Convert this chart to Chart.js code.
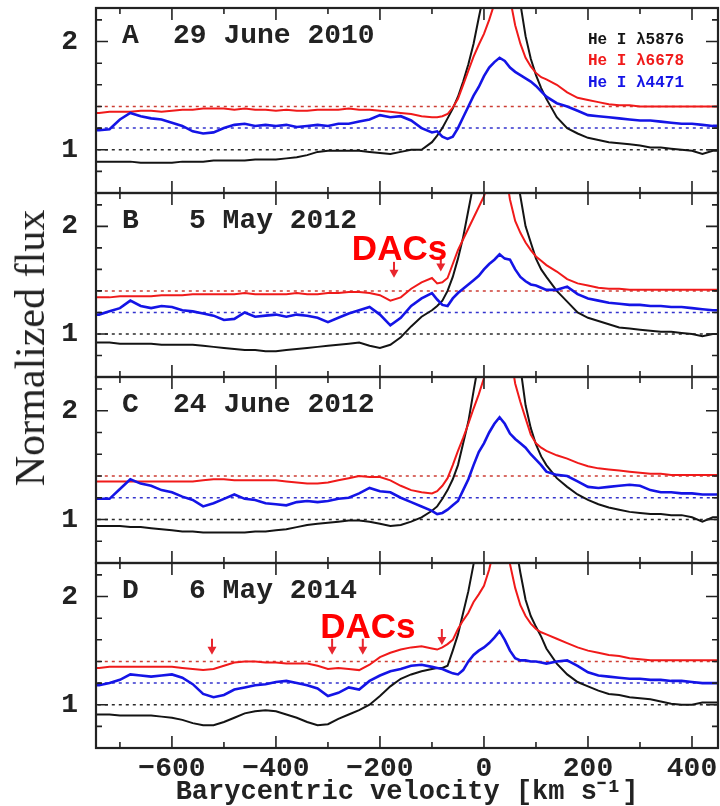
<!DOCTYPE html>
<html>
<head>
<meta charset="utf-8">
<title>He I line profiles</title>
<script src="https://cdn.jsdelivr.net/npm/chart.js@4.4.1/dist/chart.umd.min.js"></script>
<style>
  body { margin: 0; background: #fff; }
  #wrap { position: relative; width: 720px; height: 806px; overflow: hidden; background: #fff; }
  #wrap canvas { position: absolute; left: 0; }
  #ytitle {
    position: absolute; left: 30px; top: 348px;
    transform: translate(-50%, -50%) rotate(-90deg);
    font: 42px "Liberation Serif"; color: #222; white-space: nowrap;
  }
</style>
</head>
<body>
<div id="wrap">
  <canvas id="panelA" width="720" height="200" style="top:0px"></canvas>
  <canvas id="panelB" width="720" height="200" style="top:185px"></canvas>
  <canvas id="panelC" width="720" height="202" style="top:369px"></canvas>
  <canvas id="panelD" width="720" height="251" style="top:555px"></canvas>
  <div id="ytitle">Normalized flux</div>
</div>
<script>
// velocity grid (km/s), finer around the emission peak
var velocity = [-750, -740, -720, -700, -680, -660, -640, -620, -600,
  -580, -560, -540, -520, -500, -480, -460, -440, -420, -400,
  -380, -360, -340, -320, -300, -280, -260, -240, -220, -200,
  -180, -160, -140, -120, -100,
  -90, -80, -70, -60, -50, -40, -30, -20, -10, 0,
  10, 20, 30, 40, 50, 60, 70, 80, 90, 100, 110,
  120, 140, 160, 180, 200, 220, 240, 260, 280, 300,
  320, 340, 360, 380, 400, 420, 440, 450];

// A - 29 June 2010
var fluxA5876 = [0.89, 0.89, 0.89, 0.89, 0.89, 0.88, 0.88, 0.88, 0.88,
  0.89, 0.89, 0.89, 0.90, 0.90, 0.90, 0.90, 0.91, 0.91, 0.91,
  0.92, 0.93, 0.95, 0.98, 0.99, 0.99, 0.99, 0.99, 0.98, 0.97,
  0.96, 0.98, 1.00, 1.00, 1.07,
  1.13, 1.20, 1.29, 1.38, 1.49, 1.63, 1.79, 1.98, 2.22, 2.45,
  2.75, 3.00, 3.10, 3.05, 2.85, 2.60, 2.35, 2.05, 1.84, 1.69, 1.57,
  1.47, 1.30, 1.20, 1.15, 1.11, 1.09, 1.07, 1.06, 1.05, 1.04,
  1.02, 1.02, 1.01, 1.00, 0.99, 0.96, 0.99, 0.99];
var fluxA6678 = [1.34, 1.34, 1.35, 1.35, 1.35, 1.36, 1.36, 1.35, 1.36,
  1.37, 1.37, 1.38, 1.38, 1.38, 1.37, 1.38, 1.37, 1.37, 1.36,
  1.37, 1.36, 1.36, 1.37, 1.37, 1.37, 1.38, 1.37, 1.37, 1.36,
  1.35, 1.34, 1.33, 1.31, 1.30,
  1.30, 1.31, 1.33, 1.39, 1.47, 1.60, 1.73, 1.86, 1.97, 2.07,
  2.20, 2.35, 2.50, 2.55, 2.40, 2.15, 1.98, 1.85, 1.77, 1.71, 1.67,
  1.65, 1.60, 1.53, 1.48, 1.46, 1.44, 1.42, 1.41, 1.41, 1.40,
  1.40, 1.40, 1.40, 1.40, 1.40, 1.40, 1.40, 1.40];
var fluxA4471 = [1.18, 1.18, 1.19, 1.28, 1.34, 1.31, 1.29, 1.28, 1.25,
  1.22, 1.17, 1.15, 1.16, 1.20, 1.23, 1.24, 1.22, 1.23, 1.22,
  1.23, 1.21, 1.22, 1.23, 1.22, 1.24, 1.24, 1.26, 1.28, 1.32,
  1.30, 1.31, 1.27, 1.20, 1.16,
  1.17, 1.12, 1.10, 1.12, 1.20, 1.30, 1.40, 1.50, 1.58, 1.68,
  1.76, 1.81, 1.85, 1.82, 1.76, 1.72, 1.69, 1.66, 1.63, 1.59, 1.54,
  1.49, 1.43, 1.40, 1.36, 1.32, 1.31, 1.30, 1.29, 1.28, 1.27,
  1.27, 1.26, 1.25, 1.24, 1.24, 1.23, 1.22, 1.22];

// B - 5 May 2012
var fluxB5876 = [0.92, 0.92, 0.92, 0.91, 0.91, 0.91, 0.91, 0.90, 0.90,
  0.90, 0.90, 0.89, 0.88, 0.87, 0.86, 0.85, 0.85, 0.84, 0.84,
  0.85, 0.86, 0.87, 0.88, 0.89, 0.90, 0.91, 0.92, 0.89, 0.87,
  0.90, 0.97, 1.07, 1.16, 1.22,
  1.26, 1.31, 1.40, 1.53, 1.70, 1.90, 2.15, 2.40, 2.65, 2.90,
  3.10, 3.20, 3.20, 3.10, 2.85, 2.55, 2.28, 2.00, 1.85, 1.70, 1.60,
  1.53, 1.40, 1.30, 1.20, 1.15, 1.12, 1.09, 1.06, 1.05, 1.04,
  1.03, 1.02, 1.02, 1.01, 1.00, 0.98, 1.00, 1.00];
var fluxB6678 = [1.34, 1.34, 1.34, 1.35, 1.35, 1.35, 1.35, 1.36, 1.36,
  1.36, 1.37, 1.37, 1.37, 1.37, 1.37, 1.38, 1.37, 1.37, 1.37,
  1.37, 1.38, 1.37, 1.37, 1.38, 1.38, 1.39, 1.39, 1.38, 1.36,
  1.31, 1.34, 1.42, 1.48, 1.52,
  1.47, 1.48, 1.52, 1.65, 1.78, 1.88, 1.98, 2.08, 2.18, 2.28,
  2.42, 2.60, 2.70, 2.55, 2.25, 2.05, 1.94, 1.85, 1.78, 1.72, 1.68,
  1.64, 1.58, 1.51, 1.47, 1.45, 1.43, 1.42, 1.42, 1.41, 1.41,
  1.41, 1.41, 1.41, 1.41, 1.41, 1.41, 1.41, 1.41];
var fluxB4471 = [1.18, 1.18, 1.21, 1.24, 1.31, 1.26, 1.24, 1.26, 1.25,
  1.22, 1.21, 1.19, 1.17, 1.13, 1.14, 1.20, 1.16, 1.17, 1.18,
  1.16, 1.18, 1.17, 1.15, 1.11, 1.15, 1.19, 1.22, 1.25, 1.18,
  1.08, 1.15, 1.26, 1.33, 1.38,
  1.32, 1.27, 1.26, 1.33, 1.38, 1.42, 1.46, 1.50, 1.54, 1.60,
  1.65, 1.69, 1.74, 1.70, 1.69, 1.60, 1.53, 1.49, 1.46, 1.45, 1.43,
  1.41, 1.41, 1.44, 1.37, 1.33, 1.31, 1.29, 1.28, 1.27, 1.27,
  1.26, 1.26, 1.25, 1.25, 1.24, 1.23, 1.22, 1.22];

// C - 24 June 2012
var fluxC5876 = [0.94, 0.94, 0.94, 0.94, 0.93, 0.93, 0.92, 0.91, 0.90,
  0.89, 0.89, 0.88, 0.88, 0.88, 0.88, 0.88, 0.89, 0.89, 0.90,
  0.91, 0.93, 0.95, 0.96, 0.97, 0.98, 0.99, 0.99, 0.98, 0.96,
  0.94, 0.95, 0.98, 1.02, 1.08,
  1.12, 1.19, 1.27, 1.37, 1.50, 1.70, 1.90, 2.18, 2.45, 2.75,
  3.00, 3.20, 3.30, 3.20, 3.00, 2.70, 2.40, 2.05, 1.84, 1.69, 1.58,
  1.50, 1.38, 1.30, 1.23, 1.18, 1.14, 1.11, 1.09, 1.07, 1.06,
  1.05, 1.05, 1.04, 1.04, 1.02, 0.98, 1.02, 1.02];
var fluxC6678 = [1.35, 1.35, 1.35, 1.35, 1.35, 1.35, 1.35, 1.35, 1.35,
  1.35, 1.35, 1.36, 1.37, 1.37, 1.36, 1.36, 1.36, 1.36, 1.36,
  1.35, 1.34, 1.33, 1.33, 1.34, 1.36, 1.38, 1.40, 1.39, 1.39,
  1.36, 1.31, 1.27, 1.25, 1.24,
  1.26, 1.31, 1.38, 1.50, 1.63, 1.75, 1.88, 2.02, 2.15, 2.30,
  2.55, 2.80, 2.90, 2.80, 2.55, 2.25, 2.08, 1.93, 1.78, 1.70, 1.66,
  1.63, 1.59, 1.56, 1.52, 1.49, 1.47, 1.46, 1.45, 1.44, 1.43,
  1.42, 1.42, 1.41, 1.41, 1.41, 1.41, 1.41, 1.41];
var fluxC4471 = [1.19, 1.19, 1.19, 1.28, 1.37, 1.33, 1.31, 1.27, 1.25,
  1.21, 1.18, 1.12, 1.15, 1.19, 1.23, 1.19, 1.18, 1.15, 1.14,
  1.13, 1.16, 1.17, 1.16, 1.17, 1.19, 1.20, 1.24, 1.29, 1.26,
  1.25, 1.20, 1.16, 1.12, 1.08,
  1.05, 1.06, 1.09, 1.13, 1.17, 1.27, 1.37, 1.50, 1.62, 1.70,
  1.80, 1.88, 1.94, 1.88, 1.79, 1.74, 1.70, 1.66, 1.60, 1.55, 1.50,
  1.44, 1.41, 1.40, 1.35, 1.30, 1.29, 1.30, 1.31, 1.32, 1.31,
  1.27, 1.25, 1.25, 1.24, 1.24, 1.23, 1.23, 1.23];

// D - 6 May 2014
var fluxD5876 = [0.91, 0.91, 0.91, 0.90, 0.90, 0.90, 0.90, 0.89, 0.88,
  0.86, 0.83, 0.81, 0.81, 0.84, 0.88, 0.92, 0.94, 0.95, 0.94,
  0.91, 0.88, 0.84, 0.81, 0.82, 0.87, 0.91, 0.95, 1.00, 1.08,
  1.17, 1.24, 1.28, 1.31, 1.33,
  1.34, 1.34, 1.36, 1.50, 1.65, 1.85, 2.05, 2.30, 2.60, 2.90,
  3.10, 3.20, 3.20, 3.10, 2.85, 2.50, 2.22, 1.97, 1.82, 1.72, 1.63,
  1.52, 1.38, 1.28, 1.21, 1.17, 1.13, 1.10, 1.09, 1.07, 1.06,
  1.05, 1.03, 1.01, 1.00, 1.00, 1.02, 1.02, 1.02];
var fluxD6678 = [1.34, 1.34, 1.35, 1.35, 1.35, 1.35, 1.35, 1.35, 1.35,
  1.34, 1.33, 1.32, 1.33, 1.36, 1.39, 1.40, 1.40, 1.39, 1.39,
  1.38, 1.38, 1.38, 1.36, 1.33, 1.34, 1.33, 1.32, 1.37, 1.44,
  1.48, 1.51, 1.53, 1.54, 1.52,
  1.51, 1.53, 1.56, 1.60, 1.70, 1.78, 1.85, 1.95, 2.02, 2.10,
  2.25, 2.45, 2.60, 2.50, 2.30, 2.08, 1.92, 1.82, 1.75, 1.70, 1.67,
  1.65, 1.61, 1.57, 1.53, 1.50, 1.48, 1.46, 1.45, 1.43, 1.42,
  1.41, 1.41, 1.41, 1.41, 1.41, 1.41, 1.41, 1.41];
var fluxD4471 = [1.18, 1.18, 1.20, 1.23, 1.28, 1.27, 1.26, 1.27, 1.28,
  1.25, 1.19, 1.10, 1.07, 1.09, 1.14, 1.16, 1.18, 1.19, 1.21,
  1.22, 1.20, 1.18, 1.15, 1.08, 1.11, 1.16, 1.14, 1.22, 1.27,
  1.31, 1.33, 1.36, 1.37, 1.35,
  1.34, 1.33, 1.31, 1.29, 1.28, 1.32, 1.40, 1.46, 1.50, 1.53,
  1.57, 1.62, 1.68, 1.60, 1.50, 1.43, 1.41, 1.41, 1.40, 1.40, 1.39,
  1.38, 1.40, 1.41, 1.36, 1.30, 1.27, 1.26, 1.25, 1.24, 1.24,
  1.23, 1.23, 1.22, 1.22, 1.21, 1.20, 1.20, 1.20];

// continuum levels (dotted) for 5876, 4471 (+0.2) and 6678 (+0.4)
var level5876 = 1.0;
var level4471 = 1.2;
var level6678 = 1.4;

// axes
var velMin = -746;
var velMax = 450;
var fluxMin = 0.6;
var fluxMax = 2.31;
var velTicks = [-700, -600, -500, -400, -300, -200, -100, 0, 100, 200, 300, 400];
var velLabels = [-600, -400, -200, 0, 200, 400];
var fluxTicks = [0.6, 0.8, 1.0, 1.2, 1.4, 1.6, 1.8, 2.0, 2.2];
var fluxLabels = [1, 2];

// panel captions
var letters = ['A', 'B', 'C', 'D'];
var dates = ['29 June 2010', '5 May 2012', '24 June 2012', '6 May 2014'];
var lineNames = ['He I \u03bb5876', 'He I \u03bb6678', 'He I \u03bb4471'];

// DAC markers (velocity, flux at top of arrow)
var arrowVelB = [-173, -83];
var arrowFluxB = [1.67, 1.73];
var arrowVelD = [-523, -292, -233, -81];
var arrowFluxD = [1.61, 1.61, 1.61, 1.70];
var dacsVel = [-254, -315];
var dacsFlux = [1.69, 1.62];

var BLACK = '#141414';
var RED = '#f01a1a';
var BLUE = '#1414e6';
var INK = '#222';

var panels = {
  panelA: { idx: 0, dateX: 173, legend: true },
  panelB: { idx: 1, dateX: 189, arrowVel: arrowVelB, arrowFlux: arrowFluxB, dacs: 0 },
  panelC: { idx: 2, dateX: 173 },
  panelD: { idx: 3, dateX: 189, arrowVel: arrowVelD, arrowFlux: arrowFluxD, dacs: 1 }
};

function toPoints(values) {
  return values.map(function(f, i) { return { x: velocity[i], y: f }; });
}

function levelLine(f) {
  return [{ x: velMin - 10, y: f }, { x: velMax + 10, y: f }];
}

function drawArrow(ctx, px, py) {
  ctx.beginPath();
  ctx.moveTo(px, py);
  ctx.lineTo(px, py + 10);
  ctx.stroke();
  ctx.beginPath();
  ctx.moveTo(px - 4.5, py + 8);
  ctx.lineTo(px + 4.5, py + 8);
  ctx.lineTo(px, py + 16);
  ctx.closePath();
  ctx.fill();
}

// frame, inward ticks on all sides, captions and markers
var panelDeco = {
  id: 'panelDeco',
  afterDatasetsDraw: function(chart) {
    var p = panels[chart.canvas.id];
    var ctx = chart.ctx;
    var a = chart.chartArea;
    var xs = chart.scales.x;
    var ys = chart.scales.y;
    ctx.save();

    ctx.strokeStyle = INK;
    ctx.lineWidth = 1.6;
    ctx.beginPath();
    velTicks.forEach(function(v) {
      var px = xs.getPixelForValue(v);
      var len = velLabels.indexOf(v) >= 0 ? 12 : 6;
      ctx.moveTo(px, a.bottom); ctx.lineTo(px, a.bottom - len);
      ctx.moveTo(px, a.top); ctx.lineTo(px, a.top + len);
    });
    fluxTicks.forEach(function(f) {
      var py = ys.getPixelForValue(f);
      var len = fluxLabels.indexOf(Math.round(f * 10) / 10) >= 0 ? 12 : 6;
      ctx.moveTo(a.left, py); ctx.lineTo(a.left + len, py);
      ctx.moveTo(a.right, py); ctx.lineTo(a.right - len, py);
    });
    ctx.stroke();

    ctx.lineWidth = 2.2;
    ctx.strokeRect(a.left, a.top, a.right - a.left, a.bottom - a.top);

    ctx.fillStyle = INK;
    ctx.font = 'bold 28px "Liberation Mono"';
    ctx.textBaseline = 'alphabetic';
    ctx.textAlign = 'left';
    ctx.fillText(letters[p.idx], a.left + 26, a.top + 35);
    ctx.fillText(dates[p.idx], p.dateX, a.top + 35);

    if (p.legend) {
      ctx.font = 'bold 16px "Liberation Mono"';
      ctx.fillStyle = BLACK; ctx.fillText(lineNames[0], 588, 44);
      ctx.fillStyle = RED; ctx.fillText(lineNames[1], 588, 65);
      ctx.fillStyle = BLUE; ctx.fillText(lineNames[2], 588, 87);
    }

    if (p.arrowVel) {
      ctx.strokeStyle = '#e8262e';
      ctx.fillStyle = '#e8262e';
      ctx.lineWidth = 2;
      for (var i = 0; i < p.arrowVel.length; i++) {
        drawArrow(ctx, xs.getPixelForValue(p.arrowVel[i]), ys.getPixelForValue(p.arrowFlux[i]));
      }
      ctx.fillStyle = '#ff0000';
      ctx.font = 'bold 35px "Liberation Sans"';
      ctx.fillText('DACs', xs.getPixelForValue(dacsVel[p.dacs]), ys.getPixelForValue(dacsFlux[p.dacs]));
    }
    ctx.restore();
  }
};

function drawPanel(id, black, red, blue, showX, padTop, padBottom) {
  var lineStyle = { pointRadius: 0, tension: 0, fill: false };
  var datasets = [
    Object.assign({ label: lineNames[2], data: toPoints(blue), borderColor: BLUE, borderWidth: 2.6 }, lineStyle),
    Object.assign({ label: lineNames[1], data: toPoints(red), borderColor: RED, borderWidth: 2 }, lineStyle),
    Object.assign({ label: lineNames[0], data: toPoints(black), borderColor: BLACK, borderWidth: 2 }, lineStyle),
    Object.assign({ data: levelLine(level6678), borderColor: 'rgba(200,40,30,0.9)', borderWidth: 1.5, borderDash: [3, 4] }, lineStyle),
    Object.assign({ data: levelLine(level4471), borderColor: 'rgba(30,30,200,0.9)', borderWidth: 1.5, borderDash: [3, 4] }, lineStyle),
    Object.assign({ data: levelLine(level5876), borderColor: 'rgba(20,20,20,0.9)', borderWidth: 1.5, borderDash: [3, 4] }, lineStyle)
  ];

  var xScale = {
    type: 'linear', min: velMin, max: velMax, display: showX,
    grid: { display: false, drawTicks: false },
    border: { display: false },
    afterBuildTicks: function(s) { s.ticks = velLabels.map(function(v) { return { value: v }; }); },
    ticks: {
      autoSkip: false, maxRotation: 0, padding: 4, color: INK,
      font: { family: 'Liberation Mono', size: 28, weight: 'bold' },
      callback: function(v) { return v < 0 ? '\u2212' + Math.abs(v) : String(v); }
    }
  };
  if (showX) {
    xScale.afterFit = function(s) { s.height = 58; s.paddingLeft = 0; s.paddingRight = 0; };
    xScale.title = {
      display: true, text: 'Barycentric velocity [km s\u207b\u00b9]', color: INK,
      font: { family: 'Liberation Mono', size: 27, weight: 'bold', lineHeight: 1 },
      padding: { top: 0, bottom: 0 }
    };
  }

  new Chart(document.getElementById(id), {
    type: 'line',
    data: { datasets: datasets },
    options: {
      responsive: false,
      animation: false,
      layout: { padding: { top: padTop, bottom: padBottom, left: 0, right: 2 } },
      plugins: { legend: { display: false }, tooltip: { enabled: false } },
      scales: {
        x: xScale,
        y: {
          type: 'linear', min: fluxMin, max: fluxMax,
          grid: { display: false, drawTicks: false },
          border: { display: false },
          afterBuildTicks: function(s) { s.ticks = fluxLabels.map(function(v) { return { value: v }; }); },
          afterFit: function(s) { s.width = 96; s.paddingTop = 0; s.paddingBottom = 0; },
          ticks: {
            padding: 18, color: INK,
            font: { family: 'Liberation Mono', size: 28, weight: 'bold' },
            callback: function(v) { return String(v); }
          }
        }
      }
    },
    plugins: [panelDeco]
  });
}

drawPanel('panelA', fluxA5876, fluxA6678, fluxA4471, false, 8, 7);
drawPanel('panelB', fluxB5876, fluxB6678, fluxB4471, false, 8, 8);
drawPanel('panelC', fluxC5876, fluxC6678, fluxC4471, false, 8, 8);
drawPanel('panelD', fluxD5876, fluxD6678, fluxD4471, true, 8, 0);
</script>
</body>
</html>
